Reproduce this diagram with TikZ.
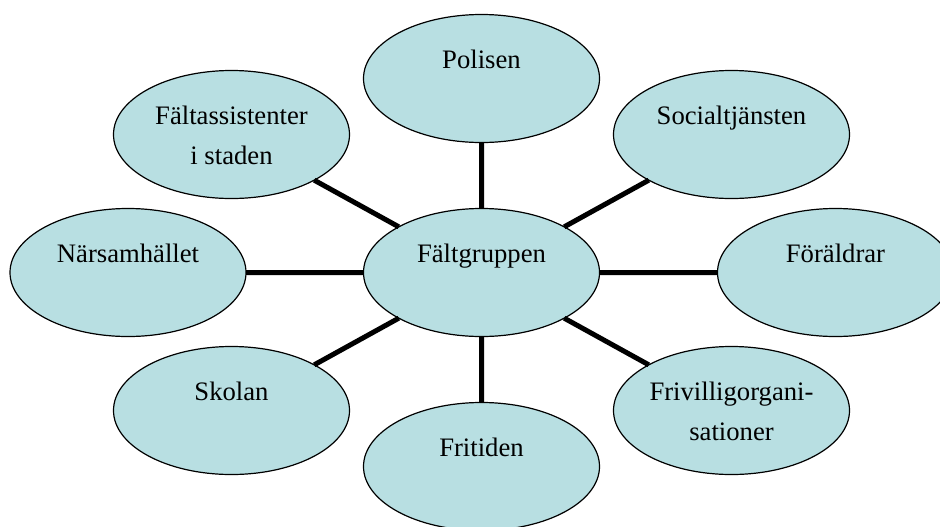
\documentclass[tikz,border=0pt]{standalone}
\usepackage{fontspec}
\setmainfont{Liberation Serif}
\usetikzlibrary{shapes.geometric}
\definecolor{bubblefill}{RGB}{184,223,226}
\newcommand{\twolines}[2]{\begin{tabular}[t]{@{}c@{}}#1\\#2\end{tabular}}

\begin{document}
\begin{tikzpicture}[x=0.75pt,y=-0.75pt,
    bubble/.style={ellipse,draw=black,line width=0.9pt,fill=bubblefill,minimum width=177pt,minimum height=96pt,inner sep=0pt,outer sep=0pt},
    bubbletext/.style={anchor=base,yshift=-40.5pt,inner sep=0pt,font=\fontsize{20}{30}\selectfont},
    spoke/.style={line width=3.75pt}]
    \clip (0,0) rectangle (940,526);
%
    \node[bubble,label={[bubbletext]north:Fältgruppen}] (grp) at (481.5,272.5) {};
    \node[bubble,label={[bubbletext]north:Polisen}] (pol) at (481.5,78.5) {};
    \node[bubble,label={[bubbletext]north:Fritiden}] (fri) at (481.5,466.5) {};
    \node[bubble,label={[bubbletext]north:{\twolines{Fältassistenter}{i staden}}}] (falt) at (231.5,134.5) {};
    \node[bubble,label={[bubbletext]north:Socialtjänsten}] (soc) at (731.5,134.5) {};
    \node[bubble,label={[bubbletext]north:Närsamhället}] (nar) at (128,272.5) {};
    \node[bubble,label={[bubbletext]north:Föräldrar}] (for) at (835.5,272.5) {};
    \node[bubble,label={[bubbletext]north:Skolan}] (sko) at (231.5,410.5) {};
    \node[bubble,label={[bubbletext]north:{\twolines{Frivilligorgani-}{sationer}}}] (friv) at (731.5,410.5) {};
%
    \draw[spoke]
    (grp) -- (pol)  (grp) -- (fri)
    (grp) -- (falt) (grp) -- (soc)
    (grp) -- (nar)  (grp) -- (for)
    (grp) -- (sko)  (grp) -- (friv);
\end{tikzpicture}
\end{document}
